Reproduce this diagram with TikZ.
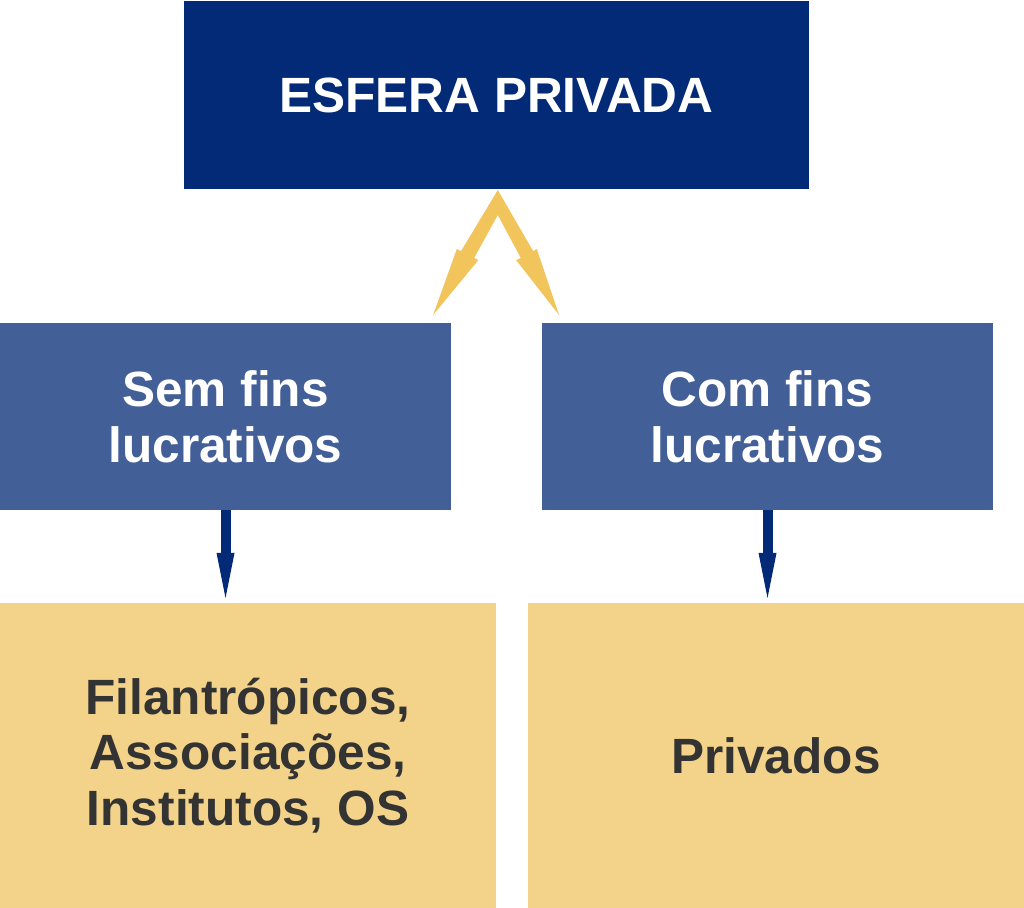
\documentclass[tikz,border=0pt]{standalone}
\usepackage{fontspec}
\setmainfont{Liberation Sans}
\usepackage{xcolor}
\usetikzlibrary{arrows.meta,positioning}

\definecolor{navyesfera}{HTML}{022A76}
\definecolor{bluefins}{HTML}{435F98}
\definecolor{sandtipo}{HTML}{F3D38A}
\definecolor{goldraio}{HTML}{F2C55C}
\definecolor{grafite}{HTML}{333333}

\begin{document}
\begin{tikzpicture}[
  esfera/.style={rectangle, fill=navyesfera, text=white, minimum width=12.5cm, minimum height=3.76cm, inner sep=0pt, outer sep=0pt, font=\fontsize{28.2}{32}\selectfont\bfseries, align=center},
  fins/.style={rectangle, fill=bluefins, text=white, minimum width=9.02cm, minimum height=3.74cm, inner sep=0pt, outer sep=0pt, font=\fontsize{28.2}{32}\selectfont\bfseries, align=center},
  tipo/.style={rectangle, fill=sandtipo, text=grafite, minimum width=9.92cm, minimum height=6.1cm, inner sep=0pt, outer sep=0pt, font=\fontsize{28.2}{31.5}\selectfont\bfseries, align=center},
  seta/.style={-{Triangle[length=0.9cm, width=0.36cm, line width=0pt]}, line width=0.2cm, navyesfera, shorten >=0.1cm},
]
  \useasboundingbox (0,0) rectangle (20.48,-18.16);

  % Top
  \node[esfera] (privada) at (9.93,-1.9) {ESFERA PRIVADA};

  % Middle
  \node[fins] (semfins) at (4.51,-8.33) {Sem fins\\lucrativos};
  \node[fins] (comfins) at (15.35,-8.33) {Com fins\\lucrativos};

  % Bottom
  \node[tipo] (filantropicos) at (4.96,-15.11) {Filantrópicos,\\Associações,\\Institutos, OS};
  \node[tipo] (privados) at (15.52,-15.11) {Privados};

  % Double arrow
  \begin{scope}[x=0.02cm, y=-0.02cm]
    \fill[goldraio] (497.7,190) -- (461,251) -- (456.7,249) -- (433,315) -- (478.3,260)
      -- (474,258) -- (497.7,215) -- (520.7,258) -- (516,260) -- (559,315)
      -- (536.7,249) -- (533,251) -- cycle;
  \end{scope}

  % Arrows
  \draw[seta] (semfins.south) -- (semfins.south |- filantropicos.north);
  \draw[seta] (comfins.south) -- (comfins.south |- privados.north);
\end{tikzpicture}
\end{document}
